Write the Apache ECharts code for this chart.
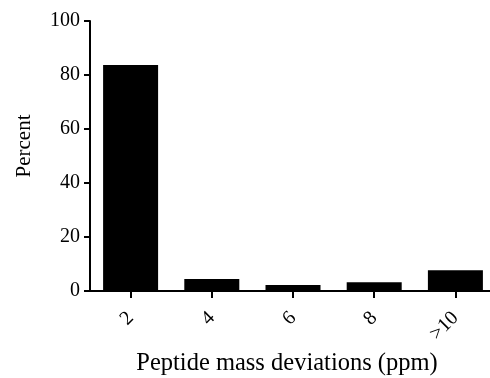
<!DOCTYPE html>
<html><head><meta charset="utf-8">
<script src="https://cdn.jsdelivr.net/npm/echarts@6/dist/echarts.min.js"></script>
<style>html,body{margin:0;padding:0;background:#fff}#c{width:490px;height:378px}</style>
</head><body><div id="c"></div>
<script>
const categories = ['2', '4', '6', '8', '>10'];
const percentValues = [83.7, 4.4, 2.2, 3.2, 7.7];
const yTicks = [0, 20, 40, 60, 80, 100];

const font = 'Liberation Serif';
const chart = echarts.init(document.getElementById('c'), null, {renderer: 'canvas'});
chart.setOption({
  animation: false,
  grid: {left: 90, width: 406, top: 21, height: 270, containLabel: false, outerBoundsMode: 'none'},
  xAxis: {
    type: 'category', data: categories,
    name: 'Peptide mass deviations (ppm)', nameLocation: 'middle', nameGap: 57,
    nameTextStyle: {fontFamily: font, fontSize: 24.5, color: '#000', padding: [0, 12, 0, 0]},
    axisLine: {lineStyle: {color: '#000', width: 2}},
    axisTick: {show: true, alignWithLabel: true, length: 7, lineStyle: {color: '#000', width: 2}},
    axisLabel: {rotate: 45, fontFamily: font, fontSize: 20, color: '#000', margin: 24}
  },
  yAxis: {
    type: 'value', min: 0, max: 100, interval: 20,
    name: 'Percent', nameLocation: 'middle', nameGap: 37,
    nameTextStyle: {fontFamily: font, fontSize: 21, color: '#000', padding: [0, 0, 18, 20]},
    axisLine: {show: true, lineStyle: {color: '#000', width: 2}},
    axisTick: {show: true, length: 6, lineStyle: {color: '#000', width: 2}},
    axisLabel: {fontFamily: font, fontSize: 20, color: '#000', margin: 10,
      formatter: v => yTicks.includes(v) ? String(v) : ''},
    splitLine: {show: false}
  },
  series: [{
    type: 'bar', data: percentValues, barWidth: 55,
    itemStyle: {color: '#000'}
  }]
});
</script></body></html>
